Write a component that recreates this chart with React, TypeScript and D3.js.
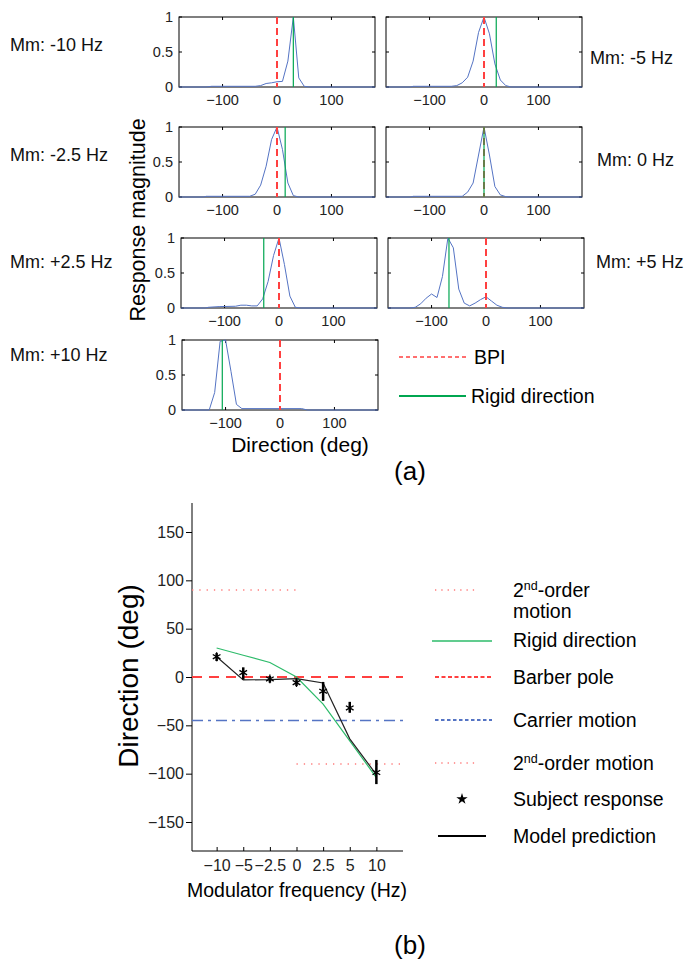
import * as d3 from 'd3';
import * as React from 'react';

// ---- (a) small panels: response magnitude vs direction ----
const mmLabels = ['Mm: -10 Hz', 'Mm: -5 Hz', 'Mm: -2.5 Hz', 'Mm: 0 Hz', 'Mm: +2.5 Hz', 'Mm: +5 Hz', 'Mm: +10 Hz'];
const rigidPanel = [30, 22.5, 15, 0, -28, -68, -106];
const bpiDirection = 0;

const respM10 = [[-180, 0], [-130, 0], [-120, 0.01], [-40, 0.01], [-30, 0.02], [-20, 0.05], [-10, 0.06], [0, 0.075], [10, 0.08], [20, 0.37], [30, 1], [40, 0.13], [50, 0.01], [60, 0], [180, 0]];
const respM5 = [[-180, 0], [-135, 0], [-130, 0.01], [-60, 0.01], [-50, 0.02], [-40, 0.06], [-30, 0.14], [-20, 0.37], [-10, 0.78], [0, 1], [10, 0.76], [20, 0.33], [30, 0.1], [40, 0.02], [50, 0], [180, 0]];
const respM25 = [[-180, 0], [-135, 0], [-130, 0.01], [-50, 0.01], [-40, 0.04], [-30, 0.17], [-20, 0.44], [-10, 0.82], [0, 1], [10, 0.68], [20, 0.2], [30, 0.02], [40, 0], [180, 0]];
const resp0 = [[-180, 0], [-135, 0], [-130, 0.01], [-40, 0.01], [-30, 0.07], [-20, 0.2], [-10, 0.6], [0, 1], [10, 0.6], [20, 0.15], [30, 0.03], [40, 0.005], [50, 0], [180, 0]];
const respP25 = [[-180, 0], [-135, 0], [-130, 0.01], [-110, 0.02], [-80, 0.025], [-70, 0.04], [-60, 0.04], [-50, 0.03], [-40, 0.03], [-30, 0.13], [-20, 0.38], [-10, 0.75], [0, 1], [10, 0.62], [20, 0.17], [30, 0.01], [40, 0], [180, 0]];
const respP5 = [[-180, 0], [-140, 0], [-130, 0.01], [-120, 0.06], [-110, 0.14], [-100, 0.2], [-90, 0.15], [-80, 0.45], [-70, 1], [-60, 0.86], [-50, 0.27], [-40, 0.07], [-30, 0.03], [-20, 0.07], [-10, 0.12], [0, 0.16], [10, 0.1], [20, 0.04], [30, 0.01], [40, 0], [180, 0]];
const respP10 = [[-180, 0], [-130, 0], [-120, 0.25], [-110, 0.98], [-100, 1], [-90, 0.55], [-80, 0.08], [-70, 0.02], [40, 0.02], [50, 0], [180, 0]];
const responses = [respM10, respM5, respM25, resp0, respP25, respP5, respP10];

const panelTicksX = [-100, 0, 100];
const panelTicksY = [0, 0.5, 1];

// ---- (b) direction vs modulator frequency ----
const freqLabels = ['\u221210', '\u22125', '\u22122.5', '0', '2.5', '5', '10'];
const rigidDirection = [30, 22.5, 15, 0, -28, -66, -104];
const modelPrediction = [21, -3, -2.7, -1.7, -6.2, -64, -101];
const subjectMean = [21, 4.5, -2, -5.8, -14.7, -32, -98.8];
const subjectLow = [16.5, -2.7, -5.8, -9.3, -24.7, -37, -110.8];
const subjectHigh = [24.7, 10, 1, -2.4, -5.1, -25.7, -85.8];
const dirTicks = [-150, -100, -50, 0, 50, 100, 150];
const barberPole = 0;
const carrierMotion = -45;
const secondOrder = [90, -90];

const FONT = '"Liberation Sans", Arial, Helvetica, sans-serif';
const PW = 196;
const PH = 70;
const panelBoxes = [
  { x: 179, y: 17, lx: 10, ly: 51, left: true },
  { x: 386, y: 17, lx: 590, ly: 64, left: false },
  { x: 179, y: 127, lx: 10, ly: 161, left: true },
  { x: 386, y: 127, lx: 597, ly: 166, left: false },
  { x: 181, y: 238, lx: 10, ly: 268, left: true },
  { x: 388, y: 238, lx: 596, ly: 268, left: false },
  { x: 182, y: 340, lx: 10, ly: 361, left: true },
];

const RED = '#ff4040';
const GREEN = '#00a650';
const BLUE = '#5574c4';
const PINK = '#ff7c7c';

const App = () => {
  const ref = React.useRef<SVGSVGElement | null>(null);

  React.useEffect(() => {
    if (!ref.current) return;
    const svg = d3.select(ref.current);
    svg.selectAll('*').remove();
    svg.append('rect').attr('width', 700).attr('height', 960).attr('fill', '#fff');

    // (a) panels
    const px = d3.scaleLinear().domain([-180, 180]).range([0, PW]);
    const py = d3.scaleLinear().domain([0, 1]).range([PH, 0]);
    const curve = d3
      .line<number[]>()
      .x((d) => px(d[0]))
      .y((d) => py(d[1]));

    responses.forEach((resp, i) => {
      const b = panelBoxes[i];
      const g = svg.append('g').attr('transform', `translate(${b.x},${b.y})`);
      g.append('rect').attr('width', PW).attr('height', PH).attr('fill', 'none').attr('stroke', '#000').attr('stroke-width', 1);

      panelTicksX.forEach((t) => {
        g.append('line').attr('x1', px(t)).attr('x2', px(t)).attr('y1', PH).attr('y2', PH - 3).attr('stroke', '#000');
        g.append('line').attr('x1', px(t)).attr('x2', px(t)).attr('y1', 0).attr('y2', 3).attr('stroke', '#000');
        g.append('text')
          .attr('x', px(t))
          .attr('y', PH + 18)
          .attr('text-anchor', 'middle')
          .style('font-size', '14.5px')
          .attr('fill', '#222')
          .text(d3.format('d')(t));
      });
      panelTicksY.forEach((t) => {
        g.append('line').attr('x1', 0).attr('x2', 3).attr('y1', py(t)).attr('y2', py(t)).attr('stroke', '#000');
        g.append('line').attr('x1', PW).attr('x2', PW - 3).attr('y1', py(t)).attr('y2', py(t)).attr('stroke', '#000');
        if (b.left) {
          g.append('text')
            .attr('x', -6)
            .attr('y', py(t))
            .attr('dy', '0.35em')
            .attr('text-anchor', 'end')
            .style('font-size', '14.5px')
            .attr('fill', '#222')
            .text(String(t));
        }
      });

      g.append('path').datum(resp).attr('d', curve).attr('fill', 'none').attr('stroke', BLUE).attr('stroke-width', 1);
      g.append('line')
        .attr('x1', px(bpiDirection))
        .attr('x2', px(bpiDirection))
        .attr('y1', 0)
        .attr('y2', PH)
        .attr('stroke', RED)
        .attr('stroke-width', 2)
        .attr('stroke-dasharray', '7,4');
      g.append('line')
        .attr('x1', px(rigidPanel[i]))
        .attr('x2', px(rigidPanel[i]))
        .attr('y1', 0)
        .attr('y2', PH)
        .attr('stroke', GREEN)
        .attr('stroke-width', 1.2);

      svg.append('text').attr('x', b.lx).attr('y', b.ly).style('font-size', '18px').attr('fill', '#111').text(mmLabels[i]);
    });

    // (a) legend
    svg.append('line').attr('x1', 399).attr('x2', 466).attr('y1', 357).attr('y2', 357).attr('stroke', RED).attr('stroke-width', 1.5).attr('stroke-dasharray', '4,3');
    svg.append('text').attr('x', 474).attr('y', 364).style('font-size', '19.5px').text('BPI');
    svg.append('line').attr('x1', 399).attr('x2', 466).attr('y1', 396).attr('y2', 396).attr('stroke', GREEN).attr('stroke-width', 2);
    svg.append('text').attr('x', 471).attr('y', 403).style('font-size', '19.5px').text('Rigid direction');

    svg.append('text').attr('transform', 'translate(145,220) rotate(-90)').attr('text-anchor', 'middle').style('font-size', '21.5px').text('Response magnitude');
    svg.append('text').attr('x', 300).attr('y', 452).attr('text-anchor', 'middle').style('font-size', '21px').text('Direction (deg)');
    svg.append('text').attr('x', 410).attr('y', 480).attr('text-anchor', 'middle').style('font-size', '26px').text('(a)');

    // (b) chart
    const x = d3.scalePoint<string>().domain(freqLabels).range([190, 403]).padding(1);
    const y = d3.scaleLinear().domain([-180, 180]).range([851, 503]);
    const left = 192;
    const right = 403;

    const yAxis = svg
      .append('g')
      .attr('transform', `translate(${left},0)`)
      .call(d3.axisLeft(y).tickValues(dirTicks).tickSize(6).tickSizeOuter(0).tickPadding(2));
    yAxis.select('.domain').remove();
    yAxis.selectAll('text').style('font-size', '16px').style('font-family', FONT).attr('fill', '#222');

    const xAxis = svg
      .append('g')
      .attr('transform', 'translate(0,851)')
      .call(d3.axisBottom(x).tickSize(-4).tickSizeOuter(0).tickPadding(9));
    xAxis.select('.domain').remove();
    xAxis.selectAll('text').style('font-size', '16px').style('font-family', FONT).attr('fill', '#222');

    svg.append('line').attr('x1', left).attr('x2', left).attr('y1', 503).attr('y2', 851).attr('stroke', '#000');
    svg.append('line').attr('x1', left).attr('x2', right).attr('y1', 851).attr('y2', 851).attr('stroke', '#000');

    // reference lines
    svg.append('line').attr('x1', left).attr('x2', right).attr('y1', y(barberPole)).attr('y2', y(barberPole)).attr('stroke', RED).attr('stroke-width', 1.8).attr('stroke-dasharray', '10,7');
    svg.append('line').attr('x1', left).attr('x2', right).attr('y1', y(carrierMotion)).attr('y2', y(carrierMotion)).attr('stroke', BLUE).attr('stroke-width', 1.5).attr('stroke-dasharray', '11,5,3,5');
    const split = x('0') as number;
    svg.append('line').attr('x1', left).attr('x2', split).attr('y1', y(secondOrder[0])).attr('y2', y(secondOrder[0])).attr('stroke', PINK).attr('stroke-width', 1.3).attr('stroke-dasharray', '1.3,6');
    svg.append('line').attr('x1', split).attr('x2', right).attr('y1', y(secondOrder[1])).attr('y2', y(secondOrder[1])).attr('stroke', PINK).attr('stroke-width', 1.3).attr('stroke-dasharray', '1.3,6');

    const series = d3
      .line<number>()
      .x((_, i) => x(freqLabels[i]) as number)
      .y((d) => y(d));
    svg.append('path').datum(rigidDirection).attr('d', series).attr('fill', 'none').attr('stroke', '#2dbb6a').attr('stroke-width', 1.2);
    svg.append('path').datum(modelPrediction).attr('d', series).attr('fill', 'none').attr('stroke', '#222').attr('stroke-width', 1.2);

    const asterisk = d3.symbol().type((d3 as any).symbolAsterisk || d3.symbolCross).size(55);
    freqLabels.forEach((f, i) => {
      const cx = x(f) as number;
      svg.append('line').attr('x1', cx).attr('x2', cx).attr('y1', y(subjectLow[i])).attr('y2', y(subjectHigh[i])).attr('stroke', '#000').attr('stroke-width', 2.5);
      svg.append('path').attr('d', asterisk()).attr('transform', `translate(${cx},${y(subjectMean[i])})`).attr('fill', 'none').attr('stroke', '#000').attr('stroke-width', 1.3);
    });

    svg.append('text').attr('transform', 'translate(138,676) rotate(-90)').attr('text-anchor', 'middle').style('font-size', '28px').text('Direction (deg)');
    svg.append('text').attr('x', 297).attr('y', 897).attr('text-anchor', 'middle').style('font-size', '19.5px').text('Modulator frequency (Hz)');
    svg.append('text').attr('x', 410).attr('y', 954).attr('text-anchor', 'middle').style('font-size', '26px').text('(b)');

    // (b) legend
    const lg = svg.append('g').style('font-size', '19.5px');
    const secondOrderText = (g, ty, rest) => {
      const t = g.append('text').attr('x', 513).attr('y', ty);
      t.append('tspan').text('2');
      t.append('tspan').attr('dy', -7).style('font-size', '12.5px').text('nd');
      t.append('tspan').attr('dy', 7).text(rest);
    };
    lg.append('line').attr('x1', 435).attr('x2', 478).attr('y1', 590).attr('y2', 590).attr('stroke', PINK).attr('stroke-width', 1.3).attr('stroke-dasharray', '1.3,5');
    secondOrderText(lg, 597, '-order');
    lg.append('text').attr('x', 513).attr('y', 618).text('motion');
    lg.append('line').attr('x1', 432).attr('x2', 492).attr('y1', 641).attr('y2', 641).attr('stroke', '#2dbb6a').attr('stroke-width', 1.5);
    lg.append('text').attr('x', 513).attr('y', 647).text('Rigid direction');
    lg.append('line').attr('x1', 435).attr('x2', 492).attr('y1', 677).attr('y2', 677).attr('stroke', RED).attr('stroke-width', 2).attr('stroke-dasharray', '4,2.5');
    lg.append('text').attr('x', 513).attr('y', 684).text('Barber pole');
    lg.append('line').attr('x1', 435).attr('x2', 492).attr('y1', 720).attr('y2', 720).attr('stroke', BLUE).attr('stroke-width', 1.8).attr('stroke-dasharray', '3.5,2.5');
    lg.append('text').attr('x', 513).attr('y', 727).text('Carrier motion');
    lg.append('line').attr('x1', 435).attr('x2', 478).attr('y1', 763).attr('y2', 763).attr('stroke', PINK).attr('stroke-width', 1.3).attr('stroke-dasharray', '1.3,5');
    secondOrderText(lg, 770, '-order motion');
    lg.append('path').attr('d', d3.symbol().type(d3.symbolStar).size(40)()).attr('transform', 'translate(462,799)').attr('fill', '#000');
    lg.append('text').attr('x', 513).attr('y', 806).text('Subject response');
    lg.append('line').attr('x1', 438).attr('x2', 486).attr('y1', 836).attr('y2', 836).attr('stroke', '#000').attr('stroke-width', 2);
    lg.append('text').attr('x', 513).attr('y', 843).text('Model prediction');
  }, []);

  return (
    <svg
      ref={ref}
      width={700}
      height={960}
      style={{ position: 'absolute', left: 0, top: 0, fontFamily: FONT }}
    />
  );
};

export default App;
